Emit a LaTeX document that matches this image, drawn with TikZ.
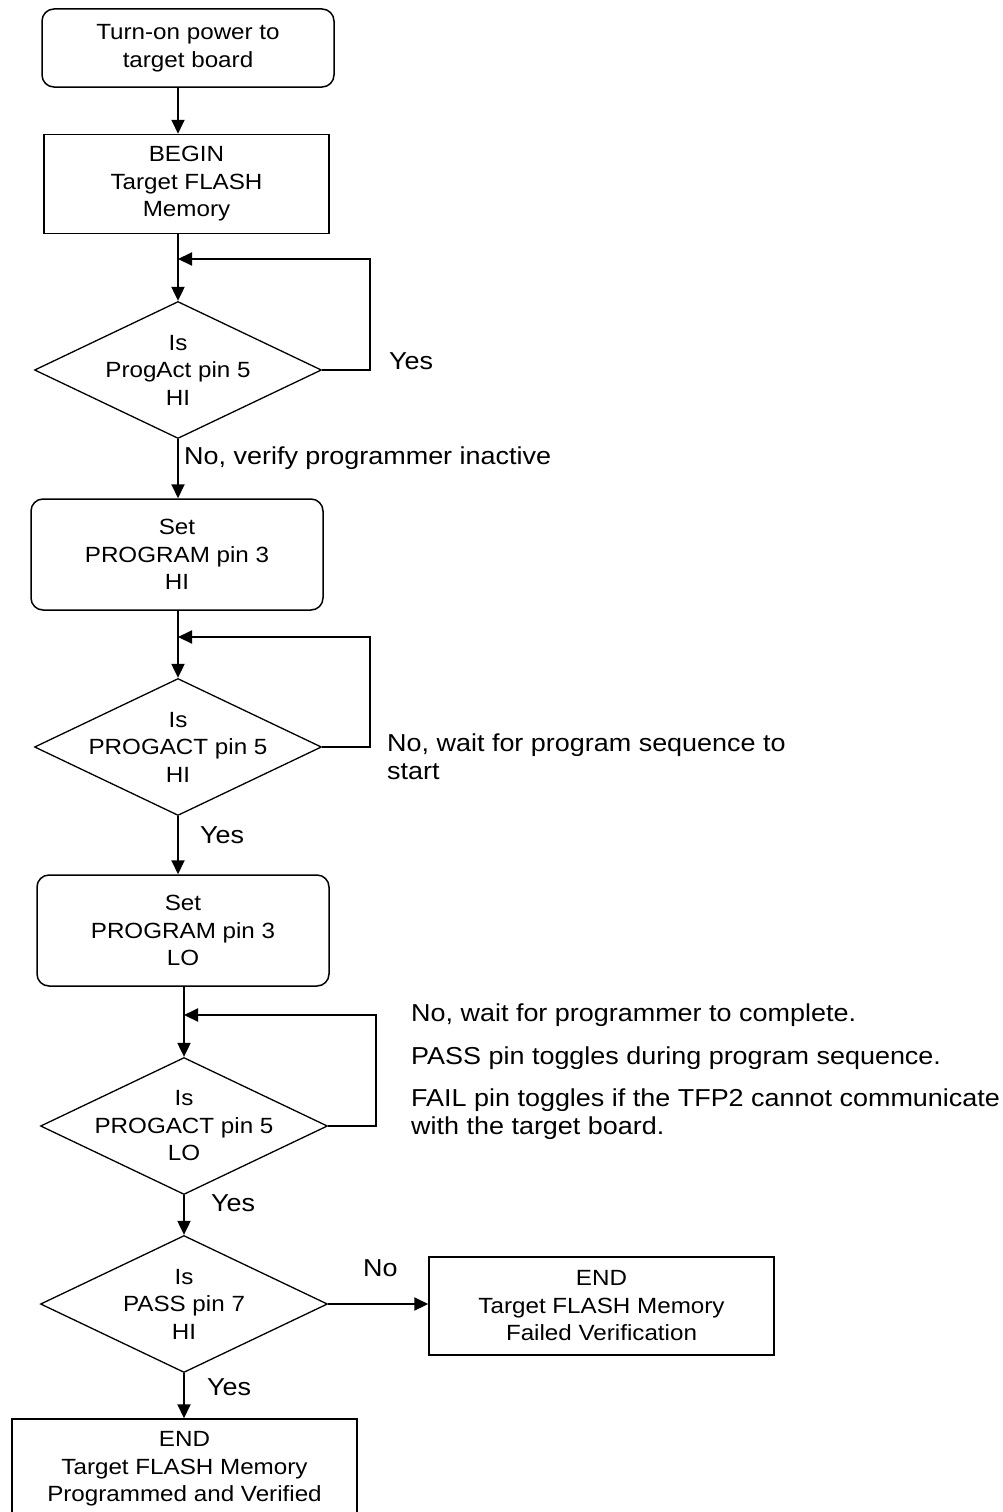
\documentclass[tikz,border=0pt]{standalone}
\usepackage{fontspec}
\setmainfont[FakeStretch=1.1]{Liberation Sans}
\usetikzlibrary{shapes.geometric,arrows.meta}
\begin{document}
\begin{tikzpicture}[x=1pt,y=-1pt,
  every node/.style={font=\fontsize{22}{27.5}\selectfont},
  rbox/.style={draw,line width=1.5pt,rounded corners=12pt,align=center,inner sep=0pt},
  sbox/.style={draw,line width=1.5pt,align=center,inner sep=0pt},
  decision/.style={draw,diamond,line width=1.3pt,inner sep=0pt,minimum width=287pt,minimum height=137pt},
  arr/.style={line width=2pt,-{Triangle[length=14pt,width=13pt]}},
  lbl/.style={anchor=west,align=left,inner sep=0pt,font=\fontsize{24.5}{28}\selectfont}]
\useasboundingbox (0,0) rectangle (1002,1512);
\clip (0,0) rectangle (1002,1512);
\fill[white] (0,0) rectangle (1002,1512);

% nodes
\node[rbox, minimum width=292pt, minimum height=78pt] (b1) at (188,48) {Turn-on power to\\target board};
\node[sbox, minimum width=285pt, minimum height=99pt] (b2) at (186.5,184) {BEGIN\\Target FLASH\\Memory};
\node[decision, label={[align=center]center:Is\\ProgAct pin 5\\HI}] (d1) at (178,370) {};
\coordinate (j1) at (178,259);
\node[lbl] (yes1) at (389,361) {Yes};
\node[lbl] (no1) at (184,458) {No, verify programmer inactive};

\node[rbox, minimum width=292pt, minimum height=111pt] (b3) at (177,554.5) {Set\\PROGRAM pin 3\\HI};
\node[decision, label={[align=center]center:Is\\PROGACT pin 5\\HI}] (d2) at (178,747) {};
\coordinate (j2) at (178,637);
\node[lbl] (no2) at (387,757) {No, wait for program sequence to\\start};
\node[lbl] (yes2) at (200,835) {Yes};

\node[rbox, minimum width=292pt, minimum height=111pt] (b4) at (183,930.5) {Set\\PROGRAM pin 3\\LO};
\node[decision, label={[align=center]center:Is\\PROGACT pin 5\\LO}] (d3) at (184,1126) {};
\coordinate (j3) at (184,1015);
\node[lbl] (note1) at (411,1015) {No, wait for programmer to complete.};
\node[lbl] (note2) at (411,1058) {PASS pin toggles during program sequence.};
\node[lbl] (note3) at (411,1114) {FAIL pin toggles if the TFP2 cannot communicate\\with the target board.};
\node[lbl] (yes3) at (211,1203) {Yes};

\node[decision, label={[align=center]center:Is\\PASS pin 7\\HI}] (d4) at (184,1304) {};
\node[lbl] (no4) at (363,1268) {No};
\node[sbox, minimum width=345pt, minimum height=98pt] (b5) at (601.5,1306) {END\\Target FLASH Memory\\Failed Verification};
\node[lbl] (yes4) at (207,1387) {Yes};
\node[sbox, minimum width=345pt, minimum height=100pt] (b6) at (184.5,1469) {END\\Target FLASH Memory\\Programmed and Verified};

% connectors
\draw[arr] (b1.south -| d1.north) -- (b2.north -| d1.north);
\draw[arr] (b2.south -| d1.north) -- (d1.north);
\draw[arr] (d1.east) -- ++(48,0) |- (j1);
\draw[arr] (d1.south) -- (b3.north -| d1.south);
\draw[arr] (b3.south -| d2.north) -- (d2.north);
\draw[arr] (d2.east) -- ++(48,0) |- (j2);
\draw[arr] (d2.south) -- (b4.north -| d2.south);
\draw[arr] (b4.south -| d3.north) -- (d3.north);
\draw[arr] (d3.east) -- ++(48,0) |- (j3);
\draw[arr] (d3.south) -- (d4.north);
\draw[arr] (d4.east) -- (d4.east -| b5.west);
\draw[arr] (d4.south) -- (b6.north -| d4.south);
\end{tikzpicture}
\end{document}
